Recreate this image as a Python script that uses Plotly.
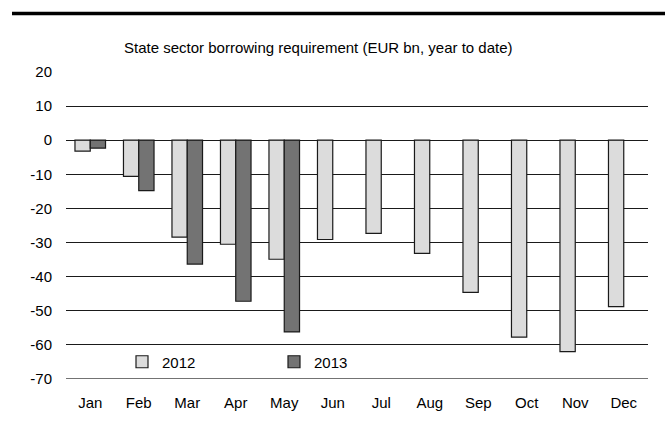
import plotly.graph_objects as go

months = ["Jan", "Feb", "Mar", "Apr", "May", "Jun", "Jul", "Aug", "Sep", "Oct", "Nov", "Dec"]
y2012 = [-3.2, -10.6, -28.4, -30.5, -34.9, -29.1, -27.3, -33.2, -44.6, -57.7, -62.0, -48.8]
y2013 = [-2.3, -14.8, -36.3, -47.2, -56.2, None, None, None, None, None, None, None]
yticks = [20, 10, 0, -10, -20, -30, -40, -50, -60, -70]
title = "State sector borrowing requirement (EUR bn, year to date)"

W, H = 665, 436
L, R, T, B = 66, 17, 72, 57
PW, PH = W - L - R, H - T - B

fig = go.Figure()
fig.add_trace(go.Bar(x=months, y=y2012, name="2012",
                     marker=dict(color="#dcdcdc", line=dict(color="#1a1a1a", width=1.2))))
fig.add_trace(go.Bar(x=months, y=y2013, name="2013",
                     marker=dict(color="#737373", line=dict(color="#1a1a1a", width=1.2))))

font = dict(family="Liberation Sans, Arial, sans-serif", size=15, color="#000")

fig.update_layout(
    width=W, height=H,
    margin=dict(l=L, r=R, t=T, b=B, pad=0),
    paper_bgcolor="white", plot_bgcolor="white",
    barmode="group", bargap=0.37, bargroupgap=0,
    font=font,
    showlegend=True,
    legend=dict(orientation="h", x=(122 - L) / PW, xanchor="left",
                y=(H - B - 362) / PH, yanchor="middle",
                entrywidth=107, entrywidthmode="pixels", itemwidth=30,
                bgcolor="rgba(0,0,0,0)", font=font, tracegroupgap=0),
    xaxis=dict(showgrid=False, showline=False, ticks="", ticklabelstandoff=13,
               tickfont=font),
    yaxis=dict(range=[-70, 20], tickvals=yticks, ticktext=[str(v) for v in yticks],
               showgrid=True, gridcolor="#1a1a1a", gridwidth=1,
               zeroline=True, zerolinecolor="#1a1a1a", zerolinewidth=1,
               showline=False, ticks="", ticklabelstandoff=13, tickfont=font),
    shapes=[dict(type="line", xref="paper", yref="paper",
                 x0=(12 - L) / PW, x1=(W - L) / PW,
                 y0=(H - B - 13.5) / PH, y1=(H - B - 13.5) / PH,
                 line=dict(color="#000", width=3.5)),
            dict(type="line", xref="paper", yref="y", x0=0, x1=1, y0=yticks[-1], y1=yticks[-1],
                 line=dict(color="#444", width=1.3))],
    annotations=[dict(text=title, xref="paper", yref="paper",
                      x=(318 - L) / PW, y=(H - B - 48) / PH,
                      xanchor="center", yanchor="middle", showarrow=False, font=font)],
)

fig.write_html("out.html")
